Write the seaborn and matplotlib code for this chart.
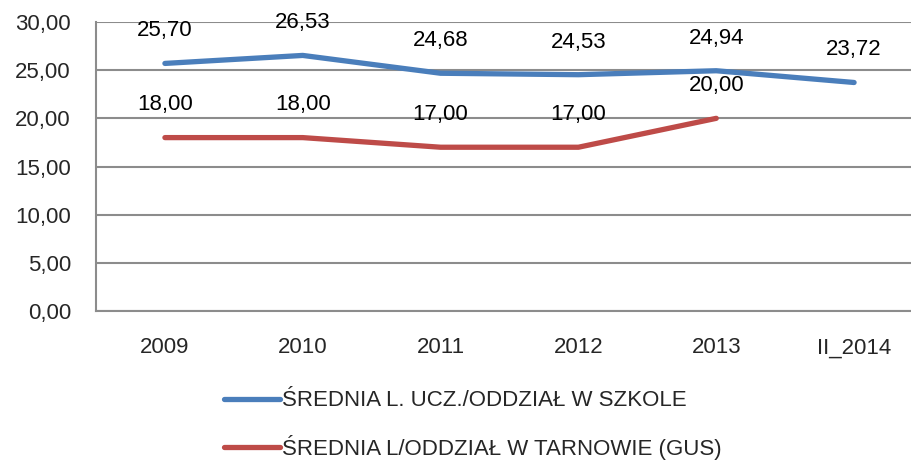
import matplotlib
matplotlib.use("Agg")
import matplotlib.pyplot as plt
import seaborn as sns
import pandas as pd
import numpy as np

categories = ["2009", "2010", "2011", "2012", "2013", "II_2014"]
school = [25.70, 26.53, 24.68, 24.53, 24.94, 23.72]
tarnow = [18.00, 18.00, 17.00, 17.00, 20.00, np.nan]
series_names = ["ŚREDNIA L. UCZ./ODDZIAŁ W SZKOLE", "ŚREDNIA L/ODDZIAŁ W TARNOWIE (GUS)"]
yticks = [0, 5, 10, 15, 20, 25, 30]
colors = ["#4A7EBB", "#BE4B48"]

sns.set_theme(style="white")
plt.rcParams["font.family"] = ["Liberation Sans", "DejaVu Sans"]
FS = 16

df = pd.DataFrame({
    "pos": list(range(len(categories))) * 2,
    "value": school + tarnow,
    "series": [series_names[0]] * len(categories) + [series_names[1]] * len(categories),
})

fig = plt.figure(figsize=(9.11, 4.61), dpi=100)
ax = fig.add_axes([96 / 911, 1 - 311 / 461, 827 / 911, 289 / 461])
sns.lineplot(data=df.dropna(), x="pos", y="value", hue="series", palette=colors,
             linewidth=3.8, ax=ax, legend=False, solid_capstyle="round")

for vals in (school, tarnow):
    for i, v in enumerate(vals):
        if not np.isnan(v):
            ax.annotate(f"{v:.2f}".replace(".", ","), (i, v), xytext=(0, 23.5),
                        textcoords="offset points", ha="center", va="center",
                        fontsize=FS, color="black")

ax.set_xlim(-0.5, len(categories) - 0.5)
ax.set_ylim(0, 30)
ax.set_yticks(yticks)
ax.set_yticklabels([f"{t:.2f}".replace(".", ",") for t in yticks], fontsize=FS)
ax.set_xticks(range(len(categories)))
ax.set_xticklabels(categories, fontsize=FS)
ax.set_xticks(np.arange(-0.5, len(categories), 1), minor=True)
ax.tick_params(axis="x", which="major", length=0, pad=19)
ax.tick_params(axis="x", which="minor", length=6, width=1.5, color="#8C8C8C", direction="out")
ax.tick_params(axis="y", length=6, width=1.5, color="#8C8C8C", pad=12, direction="out")
ax.set_xlabel("")
ax.set_ylabel("")
ax.yaxis.grid(True, color="#8C8C8C", linewidth=1.5)
ax.xaxis.grid(False)
ax.set_axisbelow(True)
for s in ["top", "right"]:
    ax.spines[s].set_visible(False)
ax.spines["left"].set_color("#8C8C8C")
ax.spines["left"].set_linewidth(1.5)
ax.spines["bottom"].set_color("#8C8C8C")
ax.spines["bottom"].set_linewidth(1.5)

handles = [plt.Line2D([], [], color=c, linewidth=3.8, solid_capstyle="round") for c in colors]
fig.legend(handles, series_names, loc="center left", bbox_to_anchor=(213 / 911, 1 - 425 / 461),
           frameon=False, fontsize=FS, handlelength=2.5, handletextpad=0.12, labelspacing=1.05,
           borderpad=0)

fig.savefig("out.png", dpi=100)
